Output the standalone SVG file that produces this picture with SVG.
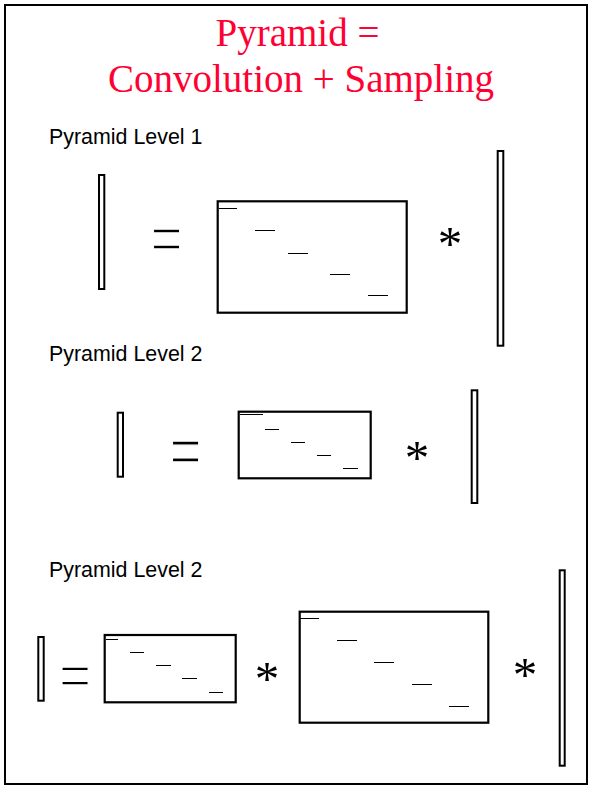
<svg xmlns="http://www.w3.org/2000/svg" width="591" height="787" viewBox="0 0 591 787">
<style>
.box{fill:#fff;stroke:#000;stroke-width:2.2}
.vec{fill:#fff;stroke:#000;stroke-width:2}
.d{stroke:#000;stroke-width:1}
.title{font-family:"Liberation Serif","Times New Roman",serif;font-size:39px;fill:#ff0033}
.lbl{font-family:"Liberation Sans",Arial,sans-serif;font-size:21.4px;fill:#000}
.op{font-family:"Liberation Serif","Times New Roman",serif;fill:#000;text-anchor:middle}
.eq{font-size:56px;stroke:#fff;stroke-width:1}
.ast{font-size:49px}
</style>
<rect x="0" y="0" width="591" height="787" fill="#fff"/>
<rect id="frame" x="5" y="5" width="582" height="779" fill="none" stroke="#000" stroke-width="2"/>
<g id="title">
<text class="title" x="215.5" y="45.5">Pyramid =</text>
<text class="title" x="108" y="91.5">Convolution + Sampling</text>
</g>
<g id="level1">
<text class="lbl" x="49" y="144">Pyramid Level 1</text>
<rect class="vec" x="99" y="175" width="5.3" height="114"/>
<text class="op eq" transform="translate(166.5,237.5) scale(1,1.43)" x="0" y="20">=</text>
<rect class="box" x="217.7" y="201.3" width="189" height="111.4"/>
<line class="d" x1="219" y1="208.5" x2="237" y2="208.5"/>
<line class="d" x1="255" y1="230.5" x2="275" y2="230.5"/>
<line class="d" x1="288" y1="253.5" x2="308" y2="253.5"/>
<line class="d" x1="330" y1="274.5" x2="350" y2="274.5"/>
<line class="d" x1="368" y1="295.5" x2="388" y2="295.5"/>
<text class="op ast" x="450" y="259.5">*</text>
<rect class="vec" x="497.7" y="151" width="5.6" height="194.7"/>
</g>
<g id="level2">
<text class="lbl" x="49" y="360.7">Pyramid Level 2</text>
<rect class="vec" x="117.7" y="412.7" width="5.3" height="64"/>
<text class="op eq" transform="translate(185.5,450.3) scale(1,1.47)" x="0" y="19.8">=</text>
<rect class="box" x="238.7" y="411.7" width="132" height="66.6"/>
<line class="d" x1="240" y1="414.5" x2="263" y2="414.5"/>
<line class="d" x1="265" y1="429.5" x2="279" y2="429.5"/>
<line class="d" x1="291" y1="442.5" x2="305" y2="442.5"/>
<line class="d" x1="317" y1="455.5" x2="331" y2="455.5"/>
<line class="d" x1="343" y1="468.5" x2="358" y2="468.5"/>
<text class="op ast" x="417" y="474.2">*</text>
<rect class="vec" x="471.7" y="390.3" width="5.6" height="112.7"/>
</g>
<g id="level3">
<text class="lbl" x="49" y="577">Pyramid Level 2</text>
<rect class="vec" x="38.3" y="637" width="5.4" height="63.7"/>
<text class="op eq" transform="translate(75,673.8) scale(1,1.3)" x="0" y="20">=</text>
<rect class="box" x="104.7" y="635" width="131" height="67.3"/>
<line class="d" x1="106" y1="639.5" x2="118" y2="639.5"/>
<line class="d" x1="130" y1="652.5" x2="144" y2="652.5"/>
<line class="d" x1="156" y1="665.5" x2="171" y2="665.5"/>
<line class="d" x1="182" y1="678.5" x2="197" y2="678.5"/>
<line class="d" x1="209" y1="692.5" x2="223" y2="692.5"/>
<text class="op ast" x="267" y="694.8">*</text>
<rect class="box" x="299.7" y="611.7" width="188.6" height="111"/>
<line class="d" x1="300" y1="618.5" x2="319" y2="618.5"/>
<line class="d" x1="337" y1="640.5" x2="357" y2="640.5"/>
<line class="d" x1="374" y1="662.5" x2="394" y2="662.5"/>
<line class="d" x1="412" y1="684.5" x2="432" y2="684.5"/>
<line class="d" x1="449" y1="706.5" x2="469" y2="706.5"/>
<text class="op ast" x="525" y="690.5">*</text>
<rect class="vec" x="559.7" y="570.3" width="5" height="195.4"/>
</g>
<g id="connectors"/>
</svg>
